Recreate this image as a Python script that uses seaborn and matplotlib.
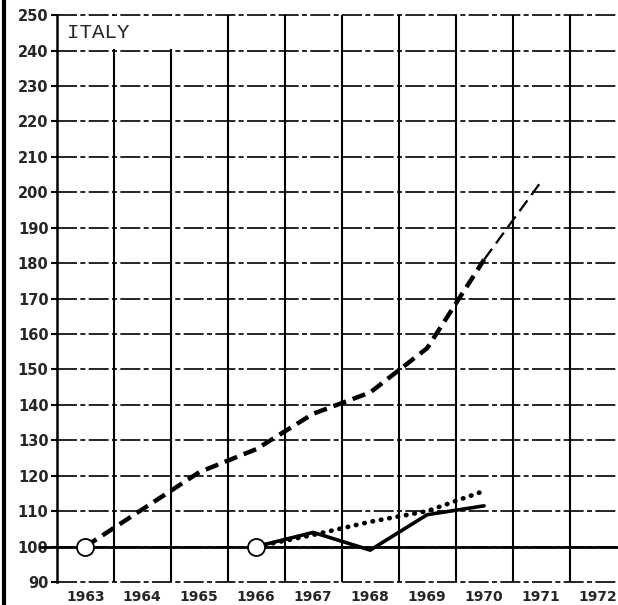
import seaborn as sns
import matplotlib.pyplot as plt
import pandas as pd
from matplotlib.lines import Line2D
from matplotlib.patches import Rectangle

# index values, 1963 = 100 / 1966 = 100
years_a = [1963, 1964, 1965, 1966, 1967, 1968, 1969, 1970]
index_a = [100, 110.5, 121, 127.5, 137.5, 143.5, 156, 181]
years_fc = [1970, 1971]
index_fc = [181, 203]
years_b = [1966, 1967, 1968, 1969, 1970]
index_b = [100, 104, 99, 109, 111.5]
index_c = [100, 103.3, 107, 110, 115.7]
base_points = [1963, 1966]
year_labels = [1963, 1964, 1965, 1966, 1967, 1968, 1969, 1970, 1971, 1972]
y_ticks = list(range(90, 251, 10))
country = "ITALY"

sns.set_style("white")
plt.rcParams['font.family'] = ['DejaVu Sans']

fig = plt.figure(figsize=(6.18, 6.05), dpi=100)
ax = fig.add_axes([0.092, 0.038, 0.908, 0.937])

df_a = pd.DataFrame({"year": years_a, "index": index_a})
df_fc = pd.DataFrame({"year": years_fc, "index": index_fc})
df_b = pd.DataFrame({"year": years_b, "index": index_b})
df_c = pd.DataFrame({"year": years_b, "index": index_c})

sns.lineplot(data=df_a, x="year", y="index", ax=ax, color="black", lw=3.2,
             linestyle=(0, (3, 1.6)), zorder=5)
sns.lineplot(data=df_fc, x="year", y="index", ax=ax, color="black", lw=1.6,
             linestyle=(0, (6, 3)), zorder=5)
sns.lineplot(data=df_b, x="year", y="index", ax=ax, color="black", lw=2.6, zorder=5)
l = sns.lineplot(data=df_c, x="year", y="index", ax=ax, color="black", lw=3.4,
                 linestyle=(0, (0.1, 1.7)), zorder=5)
l.lines[-1].set_dash_capstyle("round")

# base line at 100
ax.axhline(100, xmin=-0.03, xmax=1, color="black", lw=2, clip_on=False, zorder=4)
ax.scatter(base_points, [100] * len(base_points), s=150, facecolor="white",
           edgecolor="black", linewidth=1.3, zorder=6)

ax.set_xlim(1962.5, 1972.35)
ax.set_ylim(90, 250)
ax.set_yticks(y_ticks)
ax.set_xticks(year_labels)
ax.set_xticklabels([str(y) for y in year_labels], fontsize=10, fontweight="bold")
ax.set_yticklabels([str(v) for v in y_ticks], fontsize=10.5, fontweight="bold")
ax.tick_params(axis="y", length=4, width=1.5, color="black", pad=2, left=True)
ax.tick_params(axis="x", length=0, pad=6)
ax.set_xlabel("")
ax.set_ylabel("")

# grid: dashed horizontals, solid verticals between years
for v in y_ticks:
    ax.axhline(v, color="black", lw=1.2, linestyle=(0, (12, 2, 3, 2)), zorder=1,
               clip_on=False)
for x in range(1963, 1972):
    ax.axvline(x + 0.5, color="black", lw=1.5, zorder=1)

for s in ["top", "right", "bottom"]:
    ax.spines[s].set_visible(False)
ax.spines["left"].set_color("black")
ax.spines["left"].set_linewidth(1.8)

# label box
ax.add_patch(Rectangle((1962.53, 240.4), 2.92, 9.3, facecolor="white",
                       edgecolor="none", zorder=2))
ax.text(1962.68, 245.2, country, fontsize=15, family="Liberation Mono",
        va="center", ha="left", zorder=3)

# scan edge
fig.add_artist(Line2D([0.006, 0.006], [0.0, 1.0], color="black", lw=3))

fig.savefig("out.png", dpi=100)
